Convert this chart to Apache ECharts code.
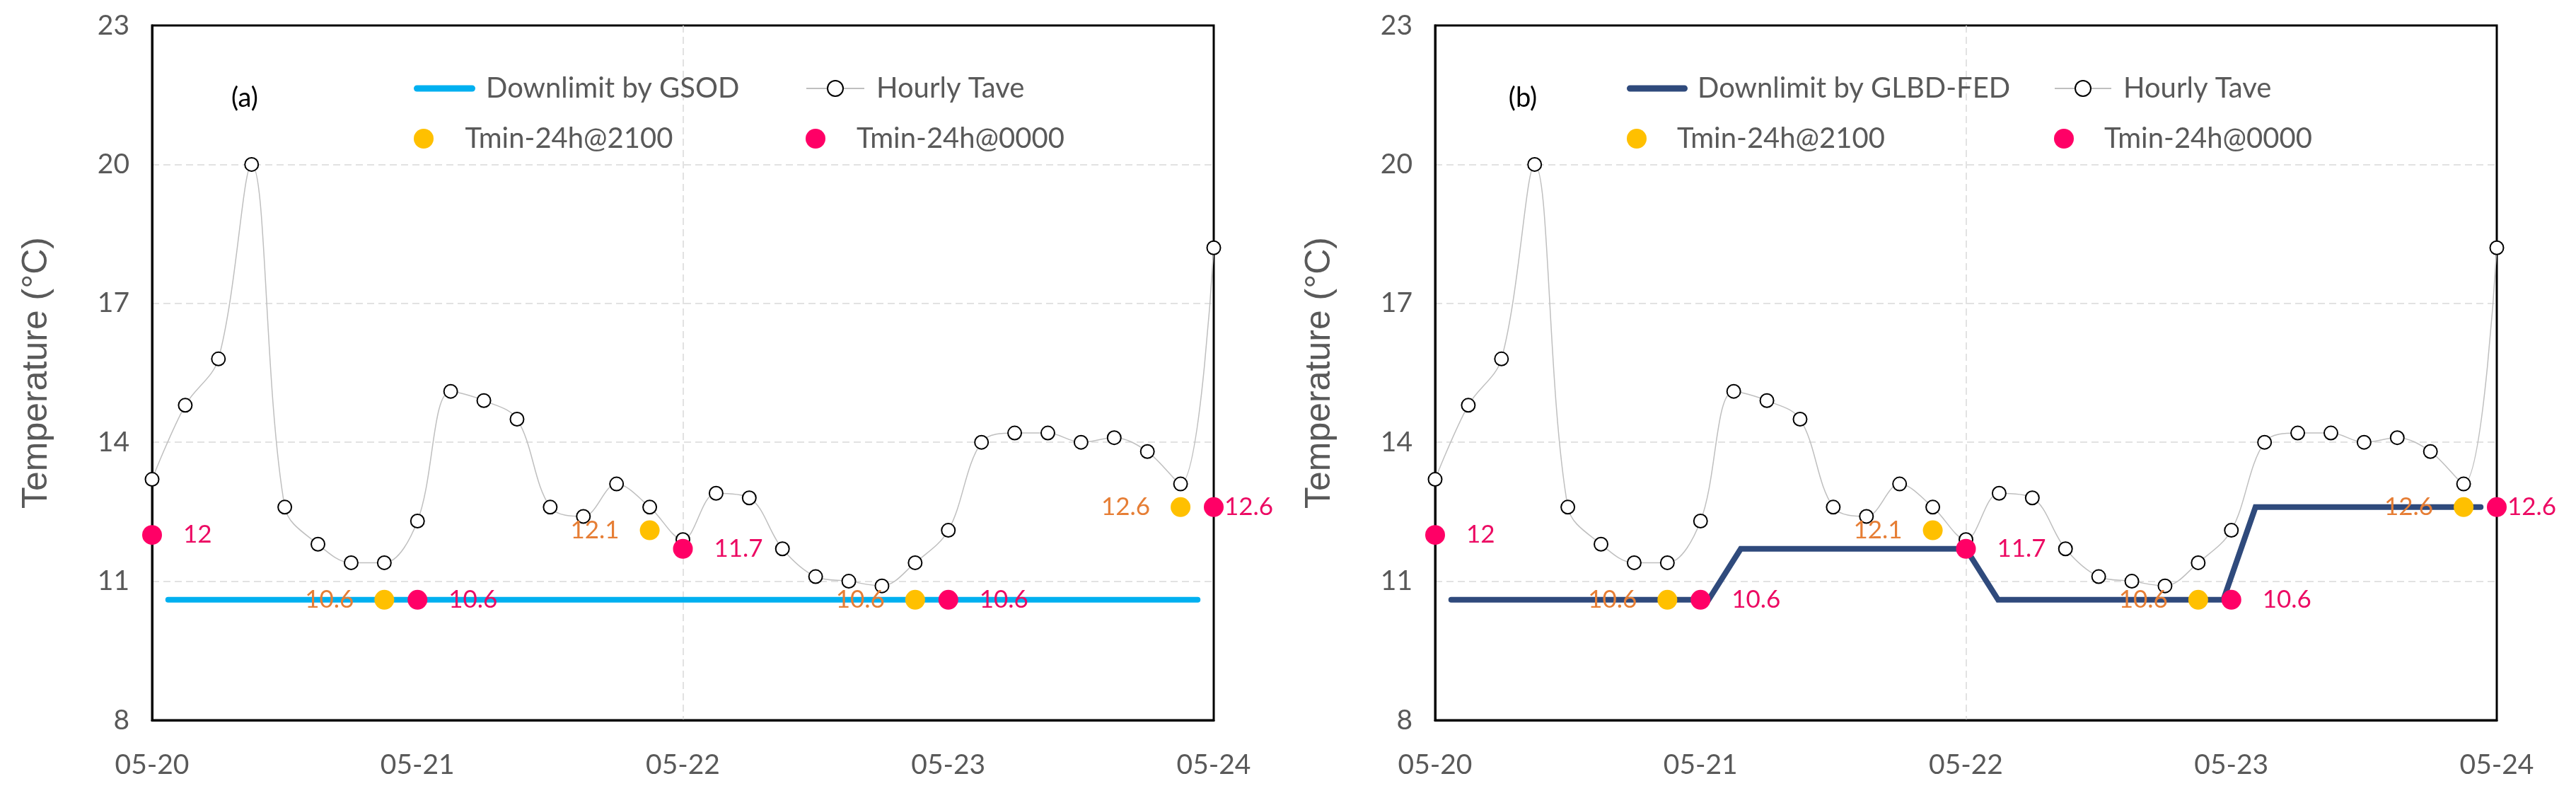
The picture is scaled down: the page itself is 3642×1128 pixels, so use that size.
<!DOCTYPE html>
<html>
<head>
<meta charset="utf-8">
<script src="https://cdn.jsdelivr.net/npm/echarts@6.0.0/dist/echarts.min.js"></script>
<style>
html,body{margin:0;padding:0;background:#ffffff;}
#chart{width:3642px;height:1128px;}
</style>
</head>
<body>
<div id="chart"></div>
<script>
// ---------- data ----------
const timeLabels = [
  '05-20 00:00','05-20 03:00','05-20 06:00','05-20 09:00','05-20 12:00','05-20 15:00','05-20 18:00','05-20 21:00',
  '05-21 00:00','05-21 03:00','05-21 06:00','05-21 09:00','05-21 12:00','05-21 15:00','05-21 18:00','05-21 21:00',
  '05-22 00:00','05-22 03:00','05-22 06:00','05-22 09:00','05-22 12:00','05-22 15:00','05-22 18:00','05-22 21:00',
  '05-23 00:00','05-23 03:00','05-23 06:00','05-23 09:00','05-23 12:00','05-23 15:00','05-23 18:00','05-23 21:00',
  '05-24 00:00'
];
const dayLabels = ['05-20','05-21','05-22','05-23','05-24'];
const yMin = 8, yMax = 23, yStep = 3;

const hourlyTave = [
  13.2,14.8,15.8,20.0,12.6,11.8,11.4,11.4,
  12.3,15.1,14.9,14.5,12.6,12.4,13.1,12.6,
  11.9,12.9,12.8,11.7,11.1,11.0,10.9,11.4,
  12.1,14.0,14.2,14.2,14.0,14.1,13.8,13.1,
  18.2
];
const tmin2100Times  = ['05-20 21:00','05-21 21:00','05-22 21:00','05-23 21:00'];
const tmin2100Values = [10.6,12.1,10.6,12.6];
const tmin0000Times  = ['05-20 00:00','05-21 00:00','05-22 00:00','05-23 00:00','05-24 00:00'];
const tmin0000Values = [12,10.6,11.7,10.6,12.6];

const downlimitGSOD = [
  10.6,10.6,10.6,10.6,10.6,10.6,10.6,10.6,
  10.6,10.6,10.6,10.6,10.6,10.6,10.6,10.6,
  10.6,10.6,10.6,10.6,10.6,10.6,10.6,10.6,
  10.6,10.6,10.6,10.6,10.6,10.6,10.6,10.6,
  10.6
];
const downlimitGLBD = [
  10.6,10.6,10.6,10.6,10.6,10.6,10.6,10.6,
  10.6,11.7,11.7,11.7,11.7,11.7,11.7,11.7,
  11.7,10.6,10.6,10.6,10.6,10.6,10.6,10.6,
  10.6,12.6,12.6,12.6,12.6,12.6,12.6,12.6,
  12.6
];

const panels = [
  {tag:'(a)', limitName:'Downlimit by GSOD', limitData:downlimitGSOD, limitColor:'#00B0F0'},
  {tag:'(b)', limitName:'Downlimit by GLBD-FED', limitData:downlimitGLBD, limitColor:'#2F4A7C'}
];

// ---------- styles ----------
const GREY_TEXT = '#595959';
const GRID_LINE = {color:'#D9D9D9', width:1.5, type:[10,6]};
const FONT = 'Lato';
const YELLOW = '#FFC000', RED = '#FF0066';
const gridBoxes = [
  {left:215, top:36, width:1501, height:982},
  {left:2029, top:36, width:1501, height:982}
];
const tagPos = [[346,139],[2153,139]];
const legendPos = [
  {c1:585, w1:87, p1:10, c2:1139, w2:82, p2:12},
  {c1:2300, w1:86, p1:9, c2:2904, w2:80, p2:12}
];
const pill = 'path://M4.5,0 L82.5,0 A4.5,4.5 0 0 1 82.5,9 L4.5,9 A4.5,4.5 0 0 1 4.5,0 Z';

const grid = [], xAxis = [], yAxis = [], series = [], legend = [], graphic = [];

panels.forEach((p, i) => {
  grid.push(Object.assign({show:true, borderColor:'#000', borderWidth:3, backgroundColor:'transparent'}, gridBoxes[i]));

  // primary time axis (points on ticks)
  xAxis.push({
    type:'category', gridIndex:i, data:timeLabels, boundaryGap:false,
    axisLine:{show:true, onZero:false, lineStyle:{color:'#000', width:3}},
    axisTick:{show:false},
    axisLabel:{interval:7, margin:44, color:GREY_TEXT, fontFamily:FONT, fontSize:39,
      formatter:(v, idx) => dayLabels[Math.round(idx / 8)]},
    splitLine:{show:true, showMinLine:false, showMaxLine:false,
      interval:(idx) => idx % 8 === 0 && idx > 0 && idx < timeLabels.length - 1,
      lineStyle:GRID_LINE}
  });
  // secondary axis (points between ticks), hidden
  xAxis.push({
    type:'category', gridIndex:i, data:timeLabels, boundaryGap:true, position:'top', show:false
  });

  yAxis.push({
    type:'value', gridIndex:i, min:yMin, max:yMax, interval:yStep,
    name:'Temperature (°C)', nameLocation:'middle', nameGap:138,
    nameTextStyle:{fontFamily:'Liberation Sans', fontSize:50, color:GREY_TEXT},
    axisLine:{show:true, lineStyle:{color:'#000', width:3}},
    axisTick:{show:false},
    axisLabel:{margin:32, color:GREY_TEXT, fontFamily:FONT, fontSize:39},
    splitLine:{show:true, showMinLine:false, showMaxLine:false, lineStyle:GRID_LINE}
  });

  series.push({
    name:p.limitName, type:'line', xAxisIndex:2*i+1, yAxisIndex:i,
    data:p.limitData, symbol:'none', silent:true, z:2,
    lineStyle:{color:p.limitColor, width:8, cap:'round', join:'miter'},
    itemStyle:{color:p.limitColor}
  });
  series.push({
    name:'Hourly Tave', type:'line', xAxisIndex:2*i, yAxisIndex:i,
    data:hourlyTave, smooth:0.35, symbol:'emptyCircle', symbolSize:19, showAllSymbol:true, z:3,
    lineStyle:{color:'#BFBFBF', width:1.5},
    itemStyle:{color:'#000', borderWidth:3}
  });
  series.push({
    name:'Tmin-24h@2100', type:'scatter', xAxisIndex:2*i, yAxisIndex:i, z:4,
    data:tmin2100Times.map((t, k) => [t, tmin2100Values[k]]),
    symbolSize:28, itemStyle:{color:YELLOW, opacity:1},
    label:{show:true, position:'left', distance:29, color:'#E67E35', fontFamily:FONT, fontSize:35,
      formatter:(d) => String(d.value[1])}
  });
  series.push({
    name:'Tmin-24h@0000', type:'scatter', xAxisIndex:2*i, yAxisIndex:i, z:5,
    data:tmin0000Times.map((t, k) => {
      const item = {value:[t, tmin0000Values[k]]};
      if (k === tmin0000Times.length - 1) item.label = {distance:1};
      return item;
    }),
    symbolSize:28, itemStyle:{color:RED, opacity:1},
    label:{show:true, position:'right', distance:30, color:'#EC0A63', fontFamily:FONT, fontSize:35,
      formatter:(d) => String(d.value[1])}
  });

  const lp = legendPos[i];
  const txt = (pad) => ({color:GREY_TEXT, fontFamily:FONT, fontSize:40, lineHeight:48, padding:[0,0,0,pad]});
  legend.push({data:[{name:p.limitName, icon:pill}], left:lp.c1, top:101, padding:0,
    itemWidth:lp.w1, itemHeight:9, selectedMode:false, textStyle:txt(lp.p1),
    itemStyle:{color:p.limitColor, borderWidth:0, opacity:1}});
  legend.push({data:[{name:'Hourly Tave'}], left:lp.c2, top:101, padding:0,
    itemWidth:lp.w2, itemHeight:27.5, selectedMode:false, textStyle:txt(lp.p2)});
  legend.push({data:[{name:'Tmin-24h@2100', icon:'circle'}], left:lp.c1, top:172, padding:0,
    itemWidth:lp.w1, itemHeight:28, selectedMode:false, textStyle:txt(lp.p1),
    itemStyle:{color:YELLOW, borderWidth:0, opacity:1}});
  legend.push({data:[{name:'Tmin-24h@0000', icon:'circle'}], left:lp.c2, top:172, padding:0,
    itemWidth:lp.w2, itemHeight:28, selectedMode:false, textStyle:txt(lp.p2),
    itemStyle:{color:RED, borderWidth:0, opacity:1}});

  graphic.push({type:'text', x:tagPos[i][0], y:tagPos[i][1], silent:true,
    style:{text:p.tag, fill:'#000', fontFamily:FONT, fontSize:38, align:'center', verticalAlign:'middle'}});
});

const chart = echarts.init(document.getElementById('chart'), null, {renderer:'canvas'});
chart.setOption({
  animation:false,
  backgroundColor:'#ffffff',
  grid, xAxis, yAxis, series, legend, graphic
});
</script>
</body>
</html>
